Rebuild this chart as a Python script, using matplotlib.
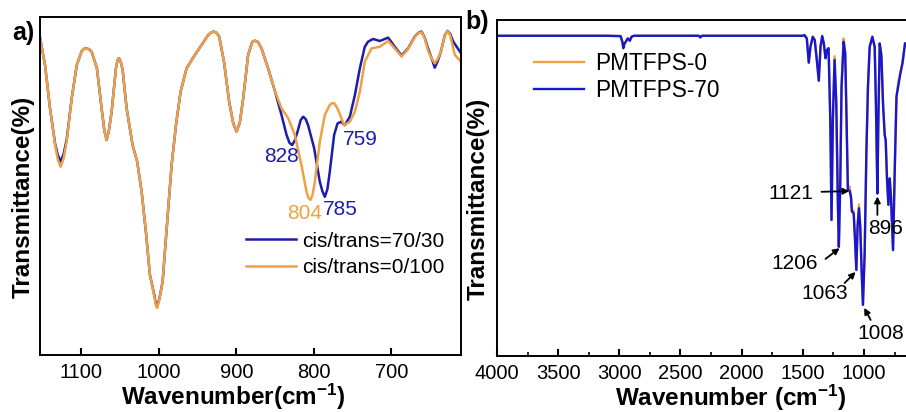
import matplotlib
matplotlib.use('Agg')
import matplotlib.pyplot as plt

plt.rcParams['font.family'] = ['Liberation Sans', 'DejaVu Sans']
plt.rcParams['mathtext.default'] = 'regular'

# ---- panel a: 1150-610 cm-1, two cis/trans ratios ----
wn_a_7030 = [1153.5, 1147, 1140.6, 1134, 1130.5, 1126.9, 1123, 1119, 1112.6, 1106, 1099.7, 1096.5,
             1093, 1089.8, 1086.8, 1080, 1074, 1070.5, 1067.5, 1064.5, 1061, 1055.5, 1053.5, 1051.6,
             1049.5, 1046.8, 1041.7, 1034, 1028, 1022.3, 1016.8, 1011.6, 1006, 1004, 1002.2, 999.5,
             995.2, 989.3, 983.6, 978, 972, 964.3, 953.5, 945, 936.4, 932.5, 929, 925.5, 922.2, 916,
             909.3, 904, 899.8, 895.5, 891.2, 884.8, 879.5, 876, 872, 867.5, 859, 850, 841.7, 835.2,
             831.5, 828, 824.5, 821, 817, 813.8, 810.5, 807.4, 799.6, 792.3, 789, 785.8, 782.5, 779.4,
             773.8, 769.4, 765.2, 760, 753.5, 747, 740.6, 734.2, 730, 723.5, 714.8, 704, 695.5, 686.8,
             678.3, 669.7, 665, 661, 657, 652.5, 647.5, 643.9, 640, 636, 631, 627.5, 624, 620, 610]
t_a_7030 = [93.9, 85.8, 73.0, 62.5, 59.2, 57.2, 59.5, 63.8, 75.9, 85.8, 89.9, 90.6,
            90.7, 90.4, 89.7, 84.8, 73.0, 66.5, 63.6, 66.5, 72.0, 84.8, 87.2, 87.8,
            87.0, 84.3, 73.0, 62.1, 57.2, 48.3, 36.5, 23.7, 17.8, 15.3, 14.5, 16.5,
            21.7, 39.4, 56.2, 68.0, 77.9, 84.8, 88.8, 91.7, 94.7, 95.4, 95.7, 95.3, 94.2, 86.8,
            74.9, 68.5, 66.1, 68.8, 75.9, 88.8, 92.6, 93.0, 92.6, 90.7, 84.8, 77.9, 71.0, 65.1,
            62.8, 62.1, 63.5, 66.1, 69.5, 70.5, 69.8, 68.0, 61.2, 51.3, 48.5, 46.8, 49.0, 54.2,
            65.1, 68.5, 69.0, 68.0, 70.5, 76.9, 84.8, 91.2, 92.7, 93.5, 92.9, 93.9, 91.2, 88.6,
            90.7, 94.2, 95.3, 95.7, 94.0, 90.7, 87.5, 85.0, 87.0, 89.7, 94.5, 95.9, 95.0, 92.7, 89.3]

wn_a_0100 = [1153.5, 1147, 1140.6, 1134, 1130.5, 1126.9, 1123, 1119, 1112.6, 1106, 1099.7, 1096.5,
             1093, 1089.8, 1086.8, 1080, 1074, 1070.5, 1067.5, 1064.5, 1061, 1055.5, 1053.5, 1051.6,
             1049.5, 1046.8, 1041.7, 1034, 1028, 1022.3, 1016.8, 1011.6, 1006, 1004, 1002.2, 999.5,
             995.2, 989.3, 983.6, 978, 972, 964.3, 953.5, 945, 936.4, 932.5, 929, 925.5, 922.2, 916,
             909.3, 904, 899.8, 895.5, 891.2, 884.8, 879.5, 876, 872, 867.5, 859, 850, 841.7, 833,
             824.5, 816, 809.4, 807, 804.3, 801.5, 798.7, 792.3, 785.8, 779.4, 776.5, 773.8, 770.8,
             767.7, 760.9, 753.5, 747, 740.6, 734.2, 725.6, 714.8, 704, 695.5, 686.8, 678.3, 669.7,
             665, 661, 657, 652.5, 647.5, 643.9, 640, 636, 631, 627.5, 624, 618, 610]
t_a_0100 = [93.9, 85.8, 73.0, 62.1, 57.8, 55.7, 58.2, 63.1, 75.9, 85.8, 89.9, 90.6,
            90.7, 90.4, 89.7, 84.8, 73.0, 66.5, 63.6, 66.5, 72.0, 84.8, 87.2, 87.8,
            87.0, 84.3, 73.0, 62.1, 57.2, 48.3, 36.5, 23.7, 17.5, 14.8, 13.9, 16.3,
            21.7, 39.4, 56.2, 68.0, 77.9, 84.8, 88.8, 91.7, 94.7, 95.4, 95.7, 95.3, 94.2, 86.8,
            74.9, 68.5, 66.1, 68.8, 75.9, 88.8, 92.6, 93.0, 92.6, 90.7, 84.8, 77.9, 73.0, 70.0,
            65.1, 56.2, 48.3, 46.5, 45.9, 47.5, 51.3, 63.1, 71.0, 74.0, 74.5, 74.5, 73.5,
            72.0, 68.0, 69.0, 72.0, 77.9, 86.8, 90.7, 91.2, 92.9, 90.7, 88.3, 90.5, 94.0,
            95.2, 95.5, 93.8, 90.0, 87.6, 86.3, 87.6, 89.7, 94.4, 95.9, 94.6, 88.8, 86.8]

# ---- panel b: full range spectra ----
wn_b_70 = [4000, 3500, 3100, 2990, 2975, 2967, 2957, 2947, 2935, 2928, 2914, 2900, 2880,
           2350, 2338, 2325, 1500, 1486, 1467, 1451, 1437, 1418, 1402, 1385, 1369, 1355, 1341,
           1328, 1314, 1303, 1289, 1275, 1265, 1254, 1240, 1226, 1213, 1205, 1194, 1183, 1166,
           1153, 1142, 1131, 1117, 1106, 1098, 1084, 1074, 1062, 1052, 1041, 1030, 1019, 1008,
           994, 980, 967, 953, 931, 912, 902, 890, 882, 871, 857, 844, 830, 822, 811, 800, 789,
           779, 762, 748, 734, 718, 702, 685, 664]
t_b_70 = [95.3, 95.3, 95.3, 95.2, 93.5, 91.6, 93.0, 93.5, 94.3, 94.5, 93.8, 95.0, 95.3,
          95.3, 94.8, 95.3, 95.3, 95.5, 94.5, 87.3, 92.0, 95.0, 94.0, 88.0, 81.9, 92.0, 95.2,
          93.0, 88.6, 91.0, 91.6, 70.2, 40.4, 70.2, 88.1, 75.2, 45.4, 32.4, 50.3, 80.1, 93.5,
          90.1, 70.2, 49.3, 49.1, 47.3, 42.9, 42.4, 35.4, 25.5, 38.4, 43.9, 38.4, 25.5, 15.1,
          30.5, 60.3, 80.1, 92.0, 95.0, 92.0, 75.2, 48.3, 70.2, 93.0, 89.1, 75.2, 65.7, 64.2,
          52.3, 44.9, 52.8, 47.3, 31.4, 55.3, 77.1, 80.6, 84.1, 87.1, 93.0]

wn_b_0 = [4000, 3500, 3100, 2990, 2975, 2967, 2957, 2947, 2935, 2928, 2914, 2900, 2880,
          2350, 2338, 2325, 1500, 1486, 1467, 1451, 1437, 1418, 1402, 1385, 1369, 1355, 1341,
          1328, 1314, 1303, 1289, 1275, 1265, 1254, 1240, 1226, 1213, 1205, 1194, 1183, 1166,
          1153, 1142, 1131, 1117, 1106, 1098, 1084, 1074, 1062, 1052, 1041, 1030, 1019, 1008,
          994, 980, 967, 953, 931, 912, 902, 890, 882, 871, 857, 844, 830, 822, 811, 800, 789,
          779, 762, 748, 734, 718, 702, 685, 664]
t_b_0 = [95.3, 95.3, 95.3, 95.2, 93.5, 91.6, 93.0, 93.5, 94.3, 94.5, 93.8, 95.0, 95.3,
         95.3, 94.8, 95.3, 95.3, 95.5, 94.5, 87.3, 92.0, 95.0, 94.0, 88.0, 81.9, 92.0, 95.2,
         93.0, 88.6, 91.0, 91.6, 70.2, 40.4, 70.2, 89.2, 75.2, 45.4, 32.4, 50.3, 80.1, 94.5,
         90.1, 70.2, 49.3, 50.4, 47.3, 42.9, 43.2, 35.4, 25.5, 38.4, 45.0, 38.4, 25.5, 15.1,
         30.5, 60.3, 80.1, 92.0, 95.0, 92.0, 75.2, 48.3, 70.2, 93.0, 90.2, 75.2, 65.7, 64.2,
         52.3, 44.9, 52.8, 47.3, 31.4, 55.3, 77.1, 81.8, 84.1, 87.1, 93.0]

# peak labels
peaks_a = [('828', 841.3, 58.6, 'blue'), ('759', 739.4, 63.9, 'blue'),
           ('804', 811.6, 42.0, 'orange'), ('785', 765.2, 42.9, 'blue')]
# (label, text x, text y, arrow tail x, tail y, tip x, tip y)
peaks_b = [('1121', 1601, 48.4, 1347, 48.8, 1120, 49.0),
           ('896', 826, 38.0, 890, 41.9, 890, 47.4),
           ('1206', 1570, 27.3, 1314, 28.8, 1199, 32.0),
           ('1063', 1318, 18.5, 1158, 21.6, 1068, 24.9),
           ('1008', 863, 6.6, 945, 10.6, 998, 14.2)]

blue_a = '#1d1dab'
blue_b = '#1717d0'
orange = '#eca244'

fig = plt.figure(figsize=(9.06, 4.12), dpi=100)
ax1 = fig.add_axes([40/906, 57/412, 421/906, 338/412])
ax2 = fig.add_axes([497/906, 56.5/412, 409/906, 335.5/412])

ax1.plot(wn_a_7030, t_a_7030, color=blue_a, lw=1.8, label='cis/trans=70/30')
ax1.plot(wn_a_0100, t_a_0100, color=orange, lw=1.8, label='cis/trans=0/100')
ax1.set_xlim(1153.5, 610)
ax1.set_ylim(0, 100)
ax1.set_xticks([1100, 1000, 900, 800, 700])
ax1.set_yticks([])
for txt, x, y, c in peaks_a:
    ax1.text(x, y, txt, color=blue_a if c == 'blue' else orange, fontsize=15,
             ha='center', va='center')
ax1.legend(loc='upper left', bbox_to_anchor=(0.49, 0.365), frameon=False, fontsize=15,
           handlelength=2.4, handletextpad=0.3, borderpad=0, borderaxespad=0,
           labelspacing=0.35)
ax1.set_xlabel('Wavenumber(cm$^{-1}$)', fontsize=17.5, fontweight='bold')
ax1.xaxis.set_label_coords(0.46, -0.08)
ax1.set_ylabel('Transmittance(%)', fontsize=17.5, fontweight='bold')
ax1.yaxis.set_label_coords(-0.013, 0.467)
fig.text(12/906, 1 - 33/412, 'a)', fontsize=18, fontweight='bold', va='center')

ax2.plot(wn_b_0, t_b_0, color=orange, lw=1.7, label='PMTFPS-0')
ax2.plot(wn_b_70, t_b_70, color=blue_b, lw=1.7, label='PMTFPS-70')
ax2.set_xlim(4000, 656)
ax2.set_ylim(0, 100)
ax2.set_xticks([4000, 3500, 3000, 2500, 2000, 1500, 1000])
ax2.set_xticks([3750, 3250, 2750, 2250, 1750, 1250, 750], minor=True)
ax2.set_yticks([])
ax2.spines['right'].set_visible(False)
for txt, tx, ty, ax_, ay, bx, by in peaks_b:
    ax2.text(tx, ty, txt, fontsize=15, ha='center', va='center')
    ax2.annotate('', xy=(bx, by), xytext=(ax_, ay),
                 arrowprops=dict(arrowstyle='-|>', color='black', lw=1.3,
                                 mutation_scale=9, shrinkA=0, shrinkB=0))
ax2.legend(loc='upper left', bbox_to_anchor=(0.09, 0.905), frameon=False, fontsize=16.3,
           handlelength=2.2, handletextpad=0.5, borderpad=0, borderaxespad=0,
           labelspacing=0.2)
ax2.set_xlabel('Wavenumber (cm$^{-1}$)', fontsize=17.5, fontweight='bold')
ax2.xaxis.set_label_coords(0.57, -0.08)
ax2.set_ylabel('Transmittance(%)', fontsize=17.5, fontweight='bold')
ax2.yaxis.set_label_coords(-0.018, 0.467)
fig.text(465/906, 1 - 22/412, 'b)', fontsize=18, fontweight='bold', va='center')

for ax in (ax1, ax2):
    for s in ax.spines.values():
        s.set_linewidth(1.4)
    ax.tick_params(axis='x', which='major', direction='in', length=5, width=1.5,
                   labelsize=14.5, pad=6)
    ax.tick_params(axis='x', which='minor', direction='in', length=3, width=1.2)

fig.savefig('out.png', dpi=100)
